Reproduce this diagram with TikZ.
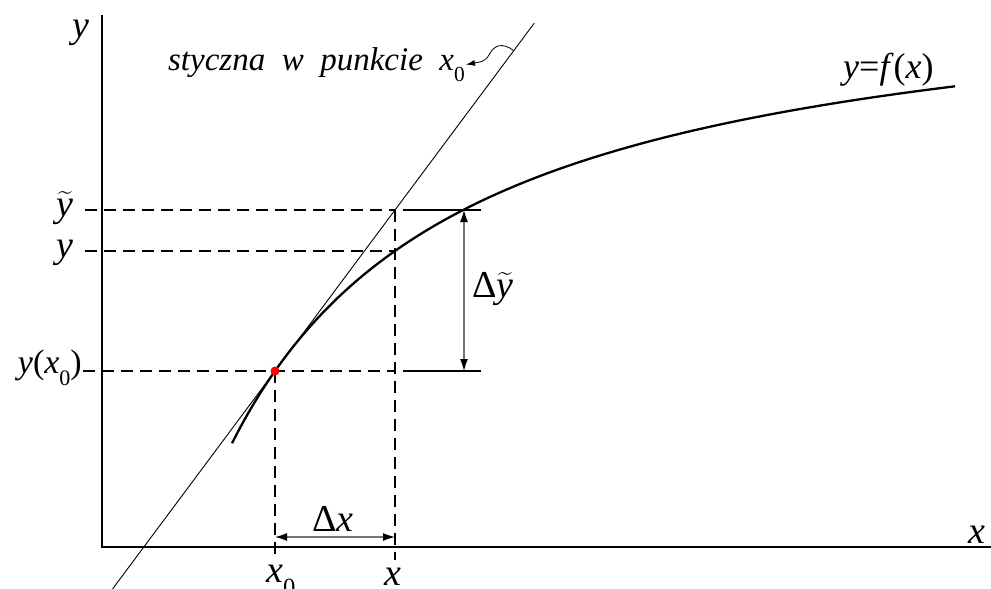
\documentclass[tikz,border=0pt]{standalone}
\usepackage{fontspec}
\setmainfont{Liberation Serif}
\usepackage{amsmath}
\usepackage{graphicx}
\usetikzlibrary{arrows.meta, positioning, calc}
\newcommand{\lowsub}[1]{\raisebox{-0.36em}{\scalebox{0.65}{\upshape #1}}}

\begin{document}
\begin{tikzpicture}[
    x=1pt, y=-1pt,
    axis/.style={line width=1.8pt},
    fcurve/.style={line width=2.3pt},
    tline/.style={line width=0.9pt},
    guide/.style={line width=1.7pt, dash pattern=on 12pt off 7pt},
    ext/.style={line width=2pt},
    dim/.style={{Latex[length=12pt,width=8pt,color=black]}-{Latex[length=12pt,width=8pt,color=black]},
                line width=1.2pt, draw=black!55},
    lab/.style={font=\fontsize{38}{44}\selectfont, inner sep=0pt},
    note/.style={font=\fontsize{33}{38}\selectfont\itshape, inner sep=1pt},
]
\useasboundingbox (0,0) rectangle (991,589);
% axes
\coordinate (O) at (102,547);
\coordinate (ytop) at (102,15);
\coordinate (xend) at (991,547);
\draw[axis] (ytop) -- (O) -- (xend);
\node[lab, anchor=base west] (ylab) at (72,37) {\textit{y}};
\node[lab, anchor=base west] (xlab) at (968,543) {\textit{x}};

% points on the curve and the tangent
\coordinate (P) at (275,371);
\coordinate (Q) at (395,251);
\coordinate (Qt) at (395,210);
\coordinate (Pr) at (395,371);
\coordinate (x0b) at (275,560);
\coordinate (xb) at (395,560);

% tangent line at x0
\draw[tline] ($(P)!-1.354!(Qt)$) -- ($(P)!2.16!(Qt)$);
\coordinate (T) at ($(P)!1.99!(Qt)$);

% y = f(x)
\draw[fcurve] plot[domain=232:955, samples=100, smooth]
    (\x, {371 - 114.1*(3.5336 - 1000/(\x+8))});
\node[lab, font=\fontsize{36}{42}\selectfont, anchor=base west] (fl) at (843,78)
    {\textit{y}=\textit{f}(\textit{x})};

% levels on the y axis
\node[lab, anchor=base east] (ytl) at (74,216) {$\widetilde{\textit{y}}$};
\node[lab, anchor=base east] (yl) at (74,257) {\textit{y}};
\node[lab, font=\fontsize{34}{40}\selectfont, anchor=base east] (y0l) at (82,373)
    {\textit{y}(\textit{x}\lowsub{0})};
\coordinate (ytl0) at (85,210);
\coordinate (yl0) at (85,251);
\coordinate (y0l0) at (83,371);
\draw[guide] (ytl0) -- (Qt);
\draw[guide] (yl0) -- (Q);
\draw[guide] (y0l0) -- (Pr);
\draw[guide] (P) -- (x0b);
\draw[guide] (Qt) -- (xb);
\node[lab, anchor=base west] (x0l) at (266,582) {\textit{x}\lowsub{0}};
\node[lab, anchor=base west] (xl) at (384,585) {\textit{x}};

% increments
\coordinate (et1) at (403,210);
\coordinate (et2) at (481,210);
\coordinate (eb1) at (403,371);
\coordinate (eb2) at (481,371);
\draw[ext] (et1) -- (et2);
\draw[ext] (eb1) -- (eb2);
\draw[dim] (464,210) -- (464,371);
\node[lab, anchor=base west] (dyl) at (472,297) {Δ$\widetilde{\textit{y}}$};
\draw[dim] (275,537) -- (395,537);
\node[lab, anchor=base] (dxl) at (333,531) {Δ\textit{x}};

\fill[red] (P) circle (4.5pt);

% label of the tangent
\node[note, anchor=base east] (tlab) at (466,70) {styczna\ \ w\ \ punkcie\ \ x\lowsub{0}};
\draw[-{Latex[length=9pt,width=6pt]}, line width=0.8pt] (T)
    .. controls (502,42) and (494,45) .. (489,55)
    .. controls (485,62) and (480,62) .. (tlab.east);
\end{tikzpicture}
\end{document}
